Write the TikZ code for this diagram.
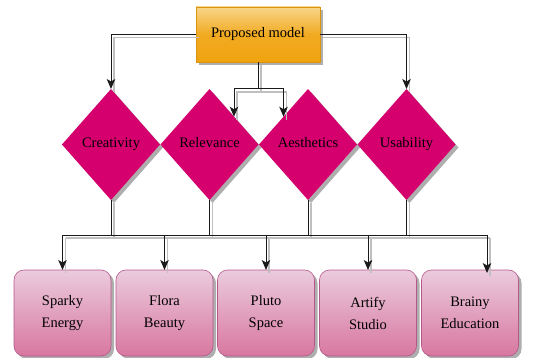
\documentclass[tikz,border=0pt]{standalone}
\usepackage{fontspec}
\setmainfont{Liberation Serif}
\usetikzlibrary{shapes.geometric,arrows.meta,shadows}
\definecolor{oTop}{HTML}{F8D58A}
\definecolor{oBot}{HTML}{F0A30F}
\definecolor{oEdge}{HTML}{D99410}
\definecolor{mag}{HTML}{D5006D}
\definecolor{pTop}{HTML}{EBCBDD}
\definecolor{pBot}{HTML}{D8779F}
\definecolor{pEdge}{HTML}{B4578A}
\definecolor{lineC}{HTML}{1A1A1A}
\tikzset{
  txt/.style={font=\fontsize{14.5}{22}\selectfont, text=black},
  shd/.style={drop shadow={shadow xshift=3pt, shadow yshift=-3pt, fill=black!45, opacity=.7}},
  topbox/.style={txt, shd, rectangle, draw=oEdge, line width=0.4pt, top color=oTop, bottom color=oBot, middle color=oBot!85!oTop,
    minimum width=124pt, minimum height=55pt, inner sep=0pt, outer sep=0pt},
  dia/.style={txt, shd, diamond, fill=mag, draw=none, minimum width=98pt, minimum height=111pt, inner sep=0pt, outer sep=0pt,
    text height=10pt, text depth=3pt},
  pbox/.style={txt, shd, rectangle, rounded corners=10pt, draw=pEdge, line width=0.6pt, top color=pTop, bottom color=pBot,
    minimum width=97pt, minimum height=86pt, align=center, inner sep=0pt, outer sep=0pt},
  conn/.style={draw=lineC, line width=1pt,
    preaction={-, draw=black!25, line width=1.3pt, transform canvas={shift={(3pt,-3pt)}}}},
  arr/.style={conn, -{Stealth[length=10pt,width=8.5pt,inset=2.5pt]}}
}
\begin{document}
\begin{tikzpicture}[x=1pt,y=-1pt]
\useasboundingbox (0,0) rectangle (559,358);
% top
\node[topbox] (pm) at (258,34.5) {Proposed model};
% diamonds
\node[dia] (cre) at (111,144.5) {Creativity};
\node[dia] (rel) at (209.5,144.5) {Relevance};
\node[dia] (aes) at (308,144.5) {Aesthetics};
\node[dia] (usa) at (406.5,144.5) {Usability};
% boxes
\node[pbox] (b1) at (62.5,313) {Sparky\\Energy};
\node[pbox] (b2) at (164.5,313) {Flora\\Beauty};
\node[pbox] (b3) at (266,313) {Pluto\\Space};
\node[pbox] (b4) at (368,313) {Artify\\Studio};
\node[pbox] (b5) at (470,313) {Brainy\\Education};
% helper coordinates
\coordinate (j1) at (258,89);
\coordinate (bus) at (0,235);
\coordinate (e5) at (487,273);
% connectors top
\draw[arr] (pm.west) -| (cre.north);
\draw[arr] (pm.east) -| (usa.north);
\draw[conn] (pm.south) -- (j1);
\draw[arr] (j1) -| (rel.north east);
\draw[arr] (j1) -| (aes.north west);
% stems to bus
\draw[conn] (cre.south) -- (cre.south |- bus);
\draw[conn] (rel.south) -- (rel.south |- bus);
\draw[conn] (aes.south) -- (aes.south |- bus);
\draw[conn] (usa.south) -- (usa.south |- bus);
\draw[conn] (b1.north |- bus) -- (e5 |- bus);
% arrows to boxes
\draw[arr] (b1.north |- bus) -- (b1.north);
\draw[arr] (b2.north |- bus) -- (b2.north);
\draw[arr] (b3.north |- bus) -- (b3.north);
\draw[arr] (b4.north |- bus) -- (b4.north);
\draw[arr] (e5 |- bus) -- (e5);
\end{tikzpicture}
\end{document}
